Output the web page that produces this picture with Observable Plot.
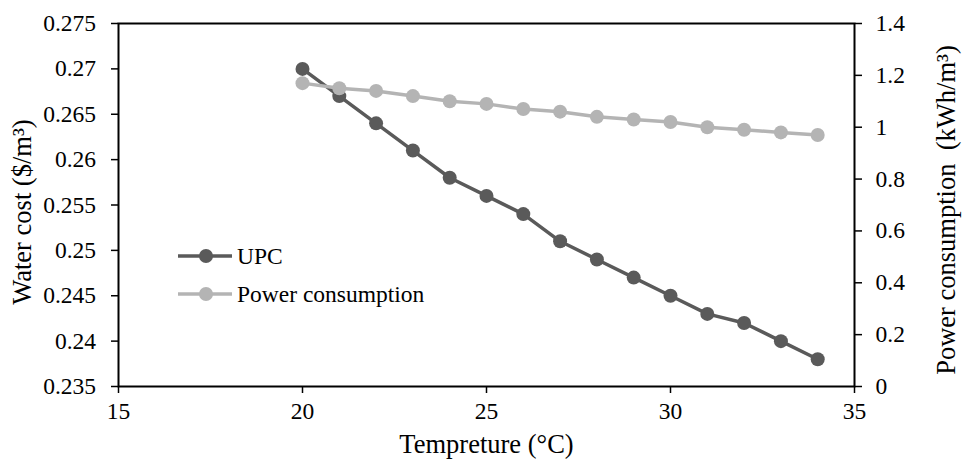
<!DOCTYPE html>
<html>
<head>
<meta charset="utf-8">
<script src="https://cdn.jsdelivr.net/npm/d3@7"></script>
<script src="https://cdn.jsdelivr.net/npm/@observablehq/plot@0.6"></script>
<style>
  html, body { margin: 0; padding: 0; background: white; }
  #wrap { position: relative; width: 963px; height: 466px; font-family: 'Liberation Serif', 'Times New Roman', serif; }
  #legend { position: absolute; left: 178px; top: 242px; font-size: 23.5px; color: #000; line-height: 28px; }
  .row { display: flex; align-items: center; height: 28px; margin-bottom: 10px; }
  .row svg { display: block; margin-right: 5px; }
</style>
</head>
<body>
<div id="wrap"></div>
<script>
// Data
const temperature = [20, 21, 22, 23, 24, 25, 26, 27, 28, 29, 30, 31, 32, 33, 34];
const upc = [0.270, 0.267, 0.264, 0.261, 0.258, 0.256, 0.254, 0.251, 0.249, 0.247, 0.245, 0.243, 0.242, 0.240, 0.238];
const power = [1.17, 1.15, 1.14, 1.12, 1.10, 1.09, 1.07, 1.06, 1.04, 1.03, 1.02, 1.00, 0.99, 0.98, 0.97];
const xTicks = [15, 20, 25, 30, 35];
const leftTicks = [0.235, 0.24, 0.245, 0.25, 0.255, 0.26, 0.265, 0.27, 0.275];
const rightTicks = [0, 0.2, 0.4, 0.6, 0.8, 1, 1.2, 1.4];
const seriesNames = ["UPC", "Power consumption"];
const colors = ["#5a5a5a", "#b4b4b4"];

const FONT = "'Liberation Serif', 'Times New Roman', serif";
const leftDomain = [0.235, 0.275];
const rightDomain = [0, 1.4];
const toLeft = p => leftDomain[0] + (p - rightDomain[0]) / (rightDomain[1] - rightDomain[0]) * (leftDomain[1] - leftDomain[0]);
const fromLeft = v => rightDomain[0] + (v - leftDomain[0]) / (leftDomain[1] - leftDomain[0]) * (rightDomain[1] - rightDomain[0]);

const upcData = temperature.map((t, i) => ({t, v: upc[i]}));
const powerData = temperature.map((t, i) => ({t, v: toLeft(power[i])}));

const fmt = d => String(+(+d).toFixed(3));

const chart = Plot.plot({
  width: 963,
  height: 466,
  marginLeft: 118,
  marginRight: 109,
  marginTop: 23,
  marginBottom: 80,
  style: {fontFamily: FONT, fontSize: "23px", background: "white", color: "black"},
  x: {domain: [15, 35]},
  y: {domain: leftDomain},
  marks: [
    Plot.axisX({ticks: xTicks, tickSize: 7, tickPadding: 9, strokeWidth: 1.5, tickFormat: d => String(d), label: null, fontSize: 23.5, fontFamily: FONT}),
    Plot.axisY({anchor: "left", ticks: leftTicks, tickSize: 7, tickPadding: 15.5, strokeWidth: 1.5, tickFormat: fmt, label: null, fontSize: 23.5, fontFamily: FONT}),
    Plot.axisY({anchor: "right", ticks: rightTicks.map(toLeft), tickSize: 7, tickPadding: 14, strokeWidth: 1.5, tickFormat: d => fmt(fromLeft(d)), label: null, fontSize: 23.5, fontFamily: FONT}),
    Plot.frame({stroke: "black", strokeWidth: 2}),
    Plot.line(upcData, {x: "t", y: "v", stroke: colors[0], strokeWidth: 3.5}),
    Plot.dot(upcData, {x: "t", y: "v", r: 7, fill: colors[0]}),
    Plot.line(powerData, {x: "t", y: "v", stroke: colors[1], strokeWidth: 3.5}),
    Plot.dot(powerData, {x: "t", y: "v", r: 7, fill: colors[1]}),
    Plot.text(["Tempreture (°C)"], {frameAnchor: "bottom", textAnchor: "middle", lineAnchor: "middle", dy: 58, fontSize: 26.5, fontFamily: FONT, fill: "black"}),
    Plot.text(["Water cost ($/m³)"], {frameAnchor: "left", textAnchor: "middle", lineAnchor: "middle", dx: -96, dy: 7, rotate: -90, fontSize: 26.5, fontFamily: FONT, fill: "black"}),
    Plot.text(["Power consumption  (kWh/m³)"], {frameAnchor: "right", textAnchor: "middle", lineAnchor: "middle", dx: 92, dy: 5, rotate: -90, fontSize: 26.5, fontFamily: FONT, fill: "black"})
  ]
});

d3.select(chart).selectAll("text, g")
  .style("font-family", FONT)
  .style("font-variant", "normal")
  .attr("font-variant", null);

const wrap = document.getElementById("wrap");
wrap.appendChild(chart);

// Legend overlay
const legend = document.createElement("div");
legend.id = "legend";
seriesNames.forEach((name, i) => {
  const row = document.createElement("div");
  row.className = "row";
  const sw = d3.create("svg").attr("width", 54).attr("height", 28);
  sw.append("line").attr("x1", 0).attr("x2", 54).attr("y1", 14).attr("y2", 14)
    .attr("stroke", colors[i]).attr("stroke-width", 3.5);
  sw.append("circle").attr("cx", 28).attr("cy", 14).attr("r", 7).attr("fill", colors[i]);
  row.appendChild(sw.node());
  const label = document.createElement("span");
  label.textContent = name;
  row.appendChild(label);
  legend.appendChild(row);
});
wrap.appendChild(legend);
</script>
</body>
</html>
